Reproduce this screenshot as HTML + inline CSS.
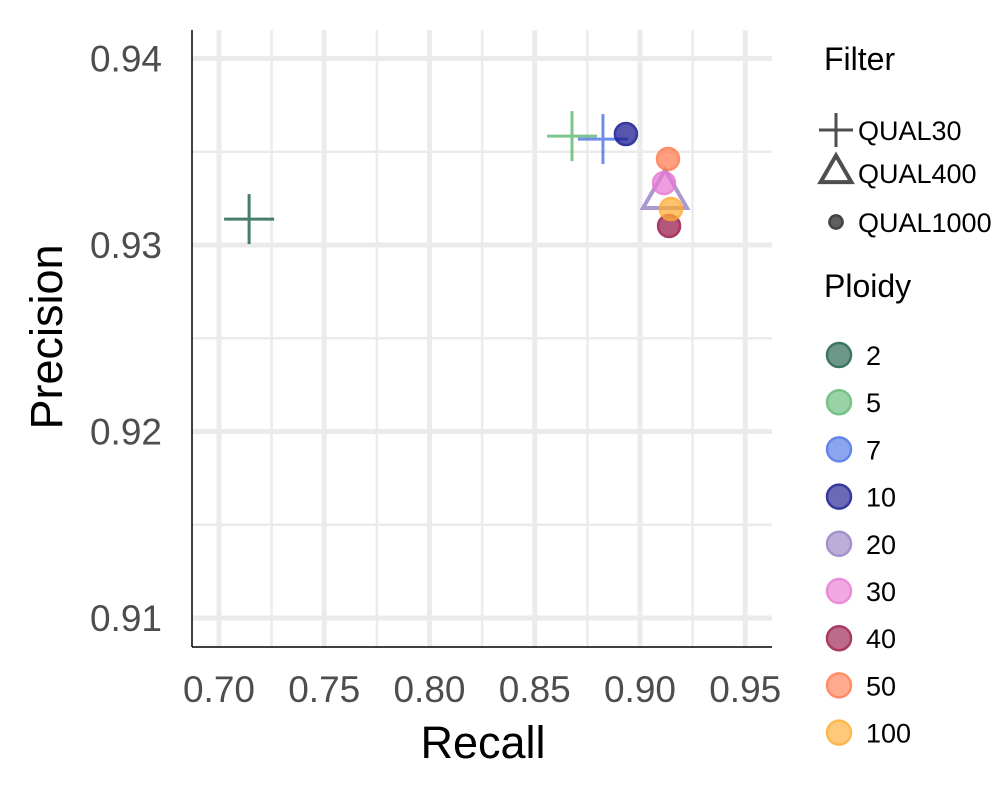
<!DOCTYPE html>
<html><head><meta charset="utf-8"><style>
body{margin:0;background:#fff}
svg{display:block;font-family:"Liberation Sans",Arial,sans-serif}
</style></head><body>
<svg id="c" width="1000" height="800">
<g id="grid"></g>
<g id="marks"></g>
<line x1="192" y1="30" x2="192" y2="647" stroke="#000" stroke-width="1.5"/>
<line x1="192" y1="647" x2="772" y2="647" stroke="#000" stroke-width="1.5"/>
<g id="ticks"></g>
<text x="483" y="758" font-size="45" text-anchor="middle">Recall</text>
<text transform="translate(62,337) rotate(-90)" font-size="45" text-anchor="middle">Precision</text>
<g id="legend"></g>
</svg>
<script>
const ploidy=["2","5","7","10","20","30","40","50","100"];
const colors=["#1b5e47","#5fb873","#4a72e6","#15168f","#9580c2","#e878d2","#981848","#ff7a4d","#ffab33"];
const pointPloidy=["2","5","7","10","20","30","40","50","100"];
const pointFilter=["QUAL30","QUAL30","QUAL30","QUAL1000","QUAL400","QUAL1000","QUAL1000","QUAL1000","QUAL1000"];
const recall=[0.7143,0.8677,0.8824,0.8933,0.9119,0.9114,0.9138,0.9133,0.9147];
const precision=[0.93139,0.93584,0.93568,0.93595,0.93268,0.93332,0.93102,0.93461,0.93193];
const xTicks=[0.70,0.75,0.80,0.85,0.90,0.95];
const yTicks=[0.91,0.92,0.93,0.94];
const filters=["QUAL30","QUAL400","QUAL1000"];
const NS="http://www.w3.org/2000/svg";
const X=v=>219+(v-0.70)*2105;
const Y=v=>245-(v-0.93)*18650;
function mk(t,a,p){const e=document.createElementNS(NS,t);for(const k in a)e.setAttribute(k,a[k]);p.appendChild(e);return e;}
const grid=document.getElementById('grid'),ticks=document.getElementById('ticks');
xTicks.forEach((v,i)=>{
 let l=mk('line',{x1:X(v),x2:X(v),y1:30,y2:647,stroke:'#ebebeb','stroke-width':5},grid);
 
 
 if(i<xTicks.length-1){let m=mk('line',{x1:X(v+0.025),x2:X(v+0.025),y1:30,y2:647,stroke:'#ebebeb','stroke-width':2.5},grid);
 
 }
 let t=mk('text',{x:X(v),y:702,'font-size':37,fill:'#4d4d4d','text-anchor':'middle'},ticks);t.textContent=v.toFixed(2);
 
 
});
yTicks.forEach((v,i)=>{
 let l=mk('line',{y1:Y(v),y2:Y(v),x1:192,x2:772,stroke:'#ebebeb','stroke-width':5},grid);
 
 
 if(i<yTicks.length-1){let m=mk('line',{y1:Y(v+0.005),y2:Y(v+0.005),x1:192,x2:772,stroke:'#ebebeb','stroke-width':2.5},grid);
 
 }
 let t=mk('text',{x:162,y:Y(v)+13,'font-size':37,fill:'#4d4d4d','text-anchor':'end'},ticks);t.textContent=v.toFixed(2);
 
 
});
function shape(f,x,y,c,p,s){
 let g=mk('g',{opacity:0.8},p);
 if(f==="QUAL30"){mk('line',{x1:x-25*s,x2:x+25*s,y1:y,y2:y,stroke:c,'stroke-width':3},g);mk('line',{x1:x,x2:x,y1:y-25*s,y2:y+25*s,stroke:c,'stroke-width':3},g);}
 else if(f==="QUAL400"){mk('polygon',{points:`${x},${y-25*s} ${x+22*s},${y+13*s} ${x-22*s},${y+13*s}`,fill:'none',stroke:c,'stroke-width':4},g);}
 else {g.setAttribute('opacity',0.85);mk('circle',{cx:x,cy:y,r:11*s,fill:c,stroke:c,'stroke-width':2.5,'fill-opacity':0.85},g);}
 return g;
}
const marks=document.getElementById('marks');
recall.forEach((r,i)=>{
 const g=shape(pointFilter[i],X(r),Y(precision[i]),colors[ploidy.indexOf(pointPloidy[i])],marks,1);
 
 
});
const lg=document.getElementById('legend');
let t=mk('text',{x:824,y:70,'font-size':32},lg);t.textContent="Filter";
filters.forEach((f,i)=>{
 const y=[130,173,222][i];
 const g=shape(f,836,y,'#222',lg,f==="QUAL30"?0.68:(f==="QUAL1000"?0.6:0.7));
 
 
 let tt=mk('text',{x:858,y:y+10,'font-size':27},lg);tt.textContent=f;
});
let t2=mk('text',{x:824,y:297,'font-size':32},lg);t2.textContent="Ploidy";
ploidy.forEach((p,i)=>{
 const y=355+i*47.2;
 const c=mk('circle',{cx:839,cy:y,r:12,fill:colors[i],stroke:colors[i],'stroke-width':2.5,'fill-opacity':0.75,opacity:0.85},lg);
 
 
 let tt=mk('text',{x:866,y:y+10,'font-size':27},lg);tt.textContent=p;
});
</script>
</body></html>
